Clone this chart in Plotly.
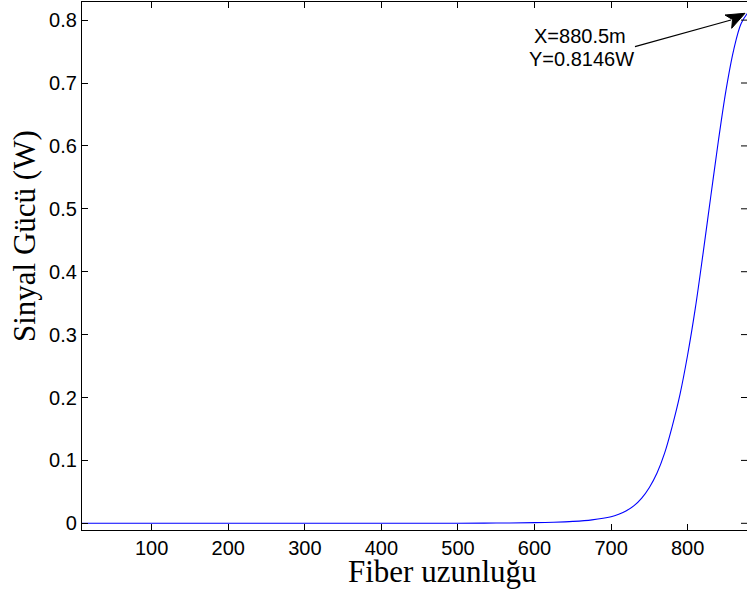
import plotly.graph_objects as go

# ---- data ----
fiber_length_m = [9, 100, 200, 300, 400, 500, 550, 600, 625, 650, 675, 700, 710, 720, 730, 740,
                  750, 760, 770, 780, 790, 800, 810, 820, 830, 840, 850, 860, 870, 880.5]
signal_power_w = [0.0, 0.0, 0.0, 0.0, 0.0, 0.0001, 0.0004, 0.001, 0.0017, 0.003, 0.0055, 0.0105,
                  0.0145, 0.020, 0.028, 0.040, 0.057, 0.080, 0.112, 0.155, 0.205, 0.268, 0.342, 0.428,
                  0.518, 0.607, 0.688, 0.752, 0.795, 0.8146]
x_ticks = [100, 200, 300, 400, 500, 600, 700, 800]
y_ticks = [0, 0.1, 0.2, 0.3, 0.4, 0.5, 0.6, 0.7, 0.8]
y_tick_labels = ["0", "0.1", "0.2", "0.3", "0.4", "0.5", "0.6", "0.7", "0.8"]
marker_label = ["X=880.5m", "Y=0.8146W"]
x_label = "Fiber uzunluğu"
y_label = "Sinyal Gücü (W)"

W, H = 747, 594
L, R, T, B = 82, 747, 2, 530  # plot area in pixels
Y_MIN, Y_MAX = -0.01065, 0.8288


def px(xp):
    return (xp - L) / (R - L)


def py(yp):
    return (B - yp) / (B - T)


fig = go.Figure()
fig.add_trace(go.Scatter(x=fiber_length_m, y=signal_power_w, mode="lines",
                         line=dict(color="#0000ff", width=1.1, shape="spline", smoothing=1.0),
                         hoverinfo="skip", showlegend=False))

axis_common = dict(showgrid=False, zeroline=False, showline=True, linecolor="black", linewidth=1.2,
                   ticks="inside", ticklen=6, tickwidth=1, tickcolor="black",
                   tickfont=dict(family="Liberation Sans, Arial, sans-serif", size=20, color="black"))

fig.update_xaxes(range=[9.0, 877.5], tickvals=x_ticks, mirror="ticks", **axis_common)
fig.update_yaxes(range=[Y_MIN, Y_MAX], tickvals=y_ticks, ticktext=y_tick_labels,
                 mirror=False, **axis_common)

serif = dict(family="Liberation Serif, Times New Roman, serif", size=31, color="black")
sans = dict(family="Liberation Sans, Arial, sans-serif", size=20, color="black")

annotations = [
    dict(text=x_label, xref="paper", yref="paper", x=px(442.5), y=py(571), xanchor="center",
         yanchor="middle", showarrow=False, font=serif),
    dict(text=y_label, xref="paper", yref="paper", x=px(24), y=py(236), xanchor="center",
         yanchor="middle", showarrow=False, font=serif, textangle=-90),
    dict(text=marker_label[0], xref="paper", yref="paper", x=px(580), y=py(35.5), xanchor="center",
         yanchor="middle", showarrow=False, font=sans),
    dict(text=marker_label[1], xref="paper", yref="paper", x=px(581.5), y=py(58.5), xanchor="center",
         yanchor="middle", showarrow=False, font=sans),
]

# right-side y ticks (mirror ticks without line)
shapes = []
for v in y_ticks:
    yp = (v - Y_MIN) / (Y_MAX - Y_MIN)
    shapes.append(dict(type="line", xref="paper", yref="paper", x0=px(741), x1=px(747), y0=yp, y1=yp,
                       line=dict(color="black", width=1)))

# arrow line and head
shapes.append(dict(type="line", xref="paper", yref="paper", x0=px(635), y0=py(46.7), x1=px(731), y1=py(20),
                   line=dict(color="black", width=1.2)))
tip = (745, 13.3)
w1 = (725, 15)
w2 = (731.7, 28.3)
notch = (732.5, 19.5)
path = "M {} {} L {} {} L {} {} L {} {} Z".format(
    px(tip[0]), py(tip[1]), px(w1[0]), py(w1[1]), px(notch[0]), py(notch[1]), px(w2[0]), py(w2[1]))
shapes.append(dict(type="path", xref="paper", yref="paper", path=path,
                   fillcolor="black", line=dict(color="black", width=1)))

fig.update_layout(width=W, height=H, margin=dict(l=L, r=W - R, t=T, b=H - B),
                  paper_bgcolor="white", plot_bgcolor="white",
                  annotations=annotations, shapes=shapes)

fig.write_html("out.html")
